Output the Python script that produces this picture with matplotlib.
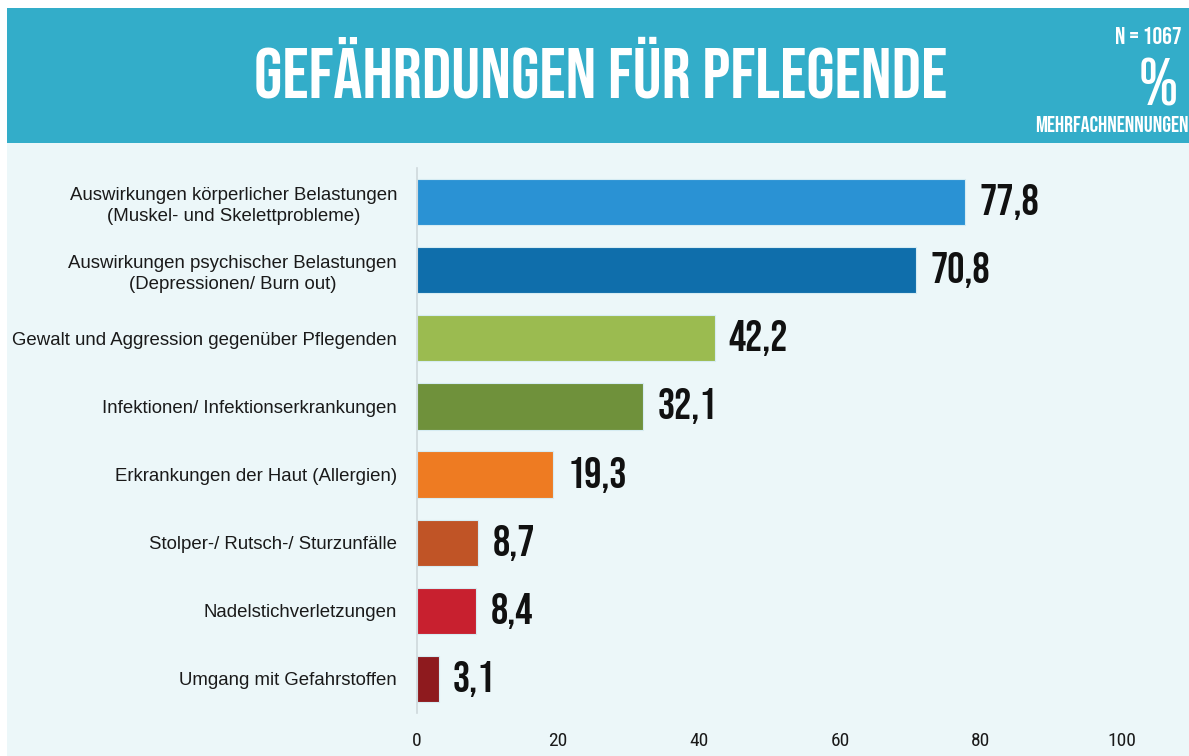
import matplotlib
matplotlib.use("Agg")
import matplotlib.pyplot as plt
from matplotlib import font_manager as fm
from matplotlib.patches import Rectangle

categories = [
    "Auswirkungen körperlicher Belastungen\n(Muskel- und Skelettprobleme)",
    "Auswirkungen psychischer Belastungen\n(Depressionen/ Burn out)",
    "Gewalt und Aggression gegenüber Pflegenden",
    "Infektionen/ Infektionserkrankungen",
    "Erkrankungen der Haut (Allergien)",
    "Stolper-/ Rutsch-/ Sturzunfälle",
    "Nadelstichverletzungen",
    "Umgang mit Gefahrstoffen",
]
values = [77.8, 70.8, 42.2, 32.1, 19.3, 8.7, 8.4, 3.1]
bar_colors = ["#2A92D4", "#0F6EAB", "#9BBB50", "#6F913B",
              "#EE7B22", "#C05426", "#C8202F", "#8E1A1E"]
xticks = [0, 20, 40, 60, 80, 100]
title = "GEFÄHRDUNGEN FÜR PFLEGENDE"
n_text = "N = 1067"
unit_text = "%"
multi_text = "MEHRFACHNENNUNGEN"

names = {f.name for f in fm.fontManager.ttflist}


def pick(*cands):
    for c in cands:
        if c in names:
            return c
    return "DejaVu Sans"


head = pick("Bebas Neue", "Oswald", "Open Sans Condensed", "IBM Plex Sans Condensed")
tickf = pick("Roboto Condensed", "Open Sans Condensed", "IBM Plex Sans Condensed", "Oswald")
body = pick("Liberation Sans", "Arimo", "DejaVu Sans")

W, H = 1189, 756
fig = plt.figure(figsize=(W / 100, H / 100), dpi=100, facecolor="white")

# backgrounds
fig.patches.append(Rectangle((7 / W, 0), 1, 1 - 143 / H, transform=fig.transFigure,
                             facecolor="#ECF7F9", edgecolor="none", zorder=-5))
fig.patches.append(Rectangle((7 / W, 1 - 143 / H), 1, (143 - 8) / H, transform=fig.transFigure,
                             facecolor="#33ADC9", edgecolor="none", zorder=-5))

fig.text(601 / W, 1 - 67 / H, title, ha="center", va="center", color="white",
         fontsize=52, family=head)
fig.text(1182 / W, 1 - 36 / H, n_text, ha="right", va="center", color="white",
         fontsize=17.5, family=head)
fig.text(1158 / W, 1 - 82 / H, unit_text, ha="center", va="center", color="white",
         fontsize=48, family=head)
fig.text(1189 / W, 1 - 124 / H, multi_text, ha="right", va="center", color="white",
         fontsize=16, family=head)

ax = fig.add_axes([417 / W, 1 - 713 / H, (1122 - 417) / W, (713 - 168) / H])
ax.set_facecolor("none")
ypos = list(range(len(values)))
ax.barh(ypos, values, height=0.68, color=bar_colors, edgecolor="#D6ECF3", linewidth=0.8)
ax.set_ylim(len(values) - 0.5, -0.5)
ax.set_xlim(0, 100)
for y, v in zip(ypos, values):
    ax.text(v + 2.0, y, f"{v:.1f}".replace(".", ","), va="center", ha="left",
            fontsize=31, family=head, color="#111111")

ax.set_yticks(ypos)
ax.set_yticklabels(categories, family=body, fontsize=13.4, color="#1a1a1a",
                   multialignment="center", linespacing=1.32)
ax.set_xticks(xticks)
ax.set_xticklabels([str(t) for t in xticks], family=tickf, fontsize=14, color="#1a1a1a")
ax.tick_params(axis="y", length=0, pad=14.4)
ax.tick_params(axis="x", length=0, pad=14)
for s in ["top", "right", "bottom"]:
    ax.spines[s].set_visible(False)
ax.spines["left"].set_color("#CFD8DB")
ax.spines["left"].set_linewidth(1.2)

fig.savefig("out.png", dpi=100, facecolor="white")
